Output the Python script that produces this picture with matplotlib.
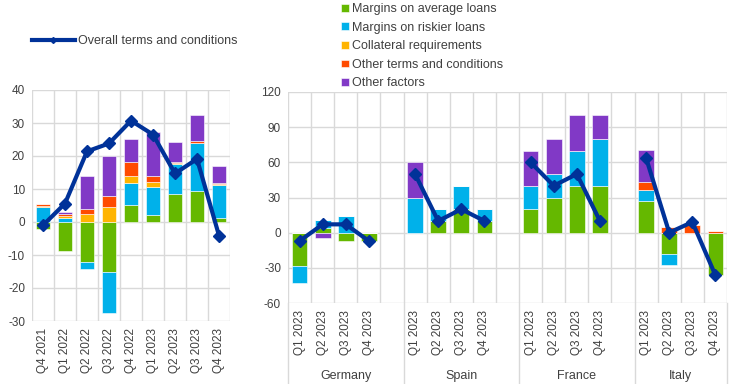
import matplotlib as mpl
import matplotlib.pyplot as plt
from matplotlib.lines import Line2D
from matplotlib.transforms import blended_transform_factory
import numpy as np


LEFT_QUARTERS = ["Q4 2021", "Q1 2022", "Q2 2022", "Q3 2022", "Q4 2022",
                 "Q1 2023", "Q2 2023", "Q3 2023", "Q4 2023"]
LEFT_AVG = [-2.0, -8.8, -12.1, -15.2, 5.2, 2.1, 8.5, 9.5, 1.3]
LEFT_RISK = [4.5, 1.2, -2.1, -12.4, 6.5, 8.4, 9.2, 14.3, 9.8]
LEFT_COLL = [0.3, 0.7, 2.5, 4.4, 2.3, 1.5, 0.3, 0.0, 0.5]
LEFT_OTHER_TC = [0.7, 0.6, 1.5, 3.4, 4.2, 2.0, 0.2, 0.7, 0.3]
LEFT_OTHER_F = [0.0, 0.4, 10.0, 12.2, 7.1, 13.3, 6.0, 7.8, 5.2]
LEFT_OVERALL = [-1.0, 5.6, 21.4, 23.8, 30.7, 26.5, 14.7, 19.1, -4.1]

COUNTRIES = ["Germany", "Spain", "France", "Italy"]
QUARTERS = ["Q1 2023", "Q2 2023", "Q3 2023", "Q4 2023"]
# one list of 4 quarters per country, in COUNTRIES order
RIGHT_AVG = [[-28.6, 3.6, -7.1, -7.1], [0, 10, 20, 10], [20, 30, 40, 40], [27.3, -18.2, 0, -36.4]]
RIGHT_RISK = [[-14.2, 7.0, 14.2, 0], [30, 10, 20, 10], [20, 20, 30, 40], [9.1, -9.1, 0, 0]]
RIGHT_COLL = [[0, 0, 0, 0], [0, 0, 0, 0], [0, 0, 0, 0], [0, 0, 0, 0]]
RIGHT_OTHER_TC = [[0, 0, 0, 0], [0, 0, 0, 0], [0, 0, 0, 0], [6.8, 4.5, 6.3, 1.8]]
RIGHT_OTHER_F = [[0, -4.6, 0, 0], [30, 0, 0, 0], [30, 30, 30, 20], [27.3, 0, 0, 0]]
RIGHT_OVERALL = [[-7.1, 7.1, 7.1, -7.1], [50, 10, 20, 10], [60, 40, 50, 10], [63.6, 0, 9.1, -36.4]]

SERIES_LABELS = ["Margins on average loans", "Margins on riskier loans",
                 "Collateral requirements", "Other terms and conditions", "Other factors"]
SERIES_COLORS = ["#65B800", "#00B1EA", "#FFB400", "#FF4B00", "#8139C6"]
LINE_LABEL = "Overall terms and conditions"
LINE_COLOR = "#003299"
GRID = "#D9D9D9"
TEXT = "#404040"
FS = 8.5
FS_LEG = 9


def stacked_bars(ax, x, series, width):
    pos = np.zeros(len(x))
    neg = np.zeros(len(x))
    handles = []
    for values, color in zip(series, SERIES_COLORS):
        values = np.asarray(values, dtype=float)
        bottom = np.where(values >= 0, pos, neg)
        h = ax.bar(x, values, width, bottom=bottom, color=color,
                   edgecolor="white", linewidth=0.4, zorder=2)
        handles.append(h)
        pos = pos + np.clip(values, 0, None)
        neg = neg + np.clip(values, None, 0)
    return handles


def style_axes(ax, xlim, ylim, yticks):
    ax.set_xlim(*xlim)
    ax.set_ylim(*ylim)
    ax.set_yticks(yticks)
    ax.set_yticklabels([f"{v:g}" for v in yticks])
    for edge in np.arange(xlim[0], xlim[1] + 0.01, 1.0):
        ax.axvline(edge, color=GRID, linewidth=1.0, zorder=0)
    for v in yticks:
        ax.axhline(v, color=GRID, linewidth=1.0, zorder=0)
    for s in ax.spines.values():
        s.set_visible(False)
    ax.tick_params(axis="y", length=0, pad=5, labelsize=FS, labelcolor=TEXT)
    ax.tick_params(axis="x", length=0, pad=5, labelsize=FS, labelcolor=TEXT)


mpl.rcParams["font.family"] = ["Liberation Sans", "DejaVu Sans"]

fig = plt.figure(figsize=(7.44, 3.84), dpi=100)

# left panel: euro area over time
axl = fig.add_axes([32 / 744, 1 - 321 / 384, 198 / 744, 231 / 384])
xl = np.arange(len(LEFT_QUARTERS))
bars = stacked_bars(axl, xl, [LEFT_AVG, LEFT_RISK, LEFT_COLL, LEFT_OTHER_TC, LEFT_OTHER_F], 0.65)
axl.plot(xl, LEFT_OVERALL, color=LINE_COLOR, linewidth=3, marker="D",
         markersize=6.5, zorder=3)
style_axes(axl, (-0.5, len(xl) - 0.5), (-30, 40), np.arange(-30, 41, 10))
axl.set_xticks(xl)
axl.set_xticklabels(LEFT_QUARTERS, rotation=90)

# right panel: countries, 2023
axr = fig.add_axes([288 / 744, 1 - 303 / 384, 439 / 744, 211 / 384])
ticks, labels = [], []
for c, country in enumerate(COUNTRIES):
    xr = c * 5 + np.arange(len(QUARTERS))
    stacked_bars(axr, xr, [RIGHT_AVG[c], RIGHT_RISK[c], RIGHT_COLL[c],
                           RIGHT_OTHER_TC[c], RIGHT_OTHER_F[c]], 0.68)
    axr.plot(xr, RIGHT_OVERALL[c], color=LINE_COLOR, linewidth=3, marker="D",
             markersize=6.5, zorder=3)
    ticks.extend(xr)
    labels.extend(QUARTERS)
n_slots = len(COUNTRIES) * 5 - 1
style_axes(axr, (-0.5, n_slots - 0.5), (-60, 120), np.arange(-60, 121, 30))
axr.set_xticks(ticks)
axr.set_xticklabels(labels, rotation=90)

trans = blended_transform_factory(axr.transData, axr.transAxes)
group_edges = [-0.5, 4.5, 9.5, 14.5, n_slots - 0.5]
for edge in group_edges:
    axr.add_line(Line2D([edge, edge], [0, -0.39], transform=trans, color=GRID,
                        linewidth=1.0, clip_on=False))
for c, country in enumerate(COUNTRIES):
    mid = (group_edges[c] + group_edges[c + 1]) / 2
    axr.text(mid, -0.345, country, transform=trans, ha="center", va="center",
             fontsize=FS_LEG, color=TEXT)

# legends
line_handle = Line2D([], [], color=LINE_COLOR, linewidth=3, marker="D", markersize=3)
fig.legend([line_handle], [LINE_LABEL], loc="center left",
           bbox_to_anchor=(32 / 744, 1 - 41 / 384), frameon=False, fontsize=FS_LEG,
           labelcolor=TEXT, handlelength=3.4, handletextpad=0.3,
           borderaxespad=0, borderpad=0)
fig.legend([b.patches[0] for b in bars], SERIES_LABELS, loc="upper left",
           bbox_to_anchor=(341 / 744, 1 - 3 / 384), frameon=False, fontsize=FS_LEG,
           labelcolor=TEXT, handlelength=0.6, handleheight=0.6, handletextpad=0.3,
           labelspacing=0.53, borderaxespad=0, borderpad=0)

fig.savefig("out.png", dpi=100, facecolor="white")
